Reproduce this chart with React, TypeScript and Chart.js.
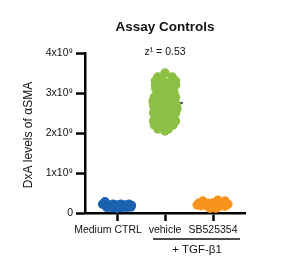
import React, { useEffect, useRef } from "react";
import { Chart, registerables } from "chart.js";

Chart.register(...registerables);

const categories = ["Medium CTRL", "vehicle", "SB525354"];
const yTickValues = [0, 1e9, 2e9, 3e9, 4e9];
const yTickLabels = ["0", "1x10\u2079", "2x10\u2079", "3x10\u2079", "4x10\u2079"];
const chartTitle = "Assay Controls";
const annotation = "z\u00B9 = 0.53";
const yTitle = "DxA levels of \u03B1SMA";
const groupLabel = "+ TGF-\u03B21";

// values in units of 1e9, horizontal swarm offsets in category units
const mediumValues = [0.28, 0.22, 0.2, 0.22, 0.2, 0.22, 0.2, 0.22, 0.19, 0.14, 0.13, 0.12, 0.13, 0.14, 0.16, 0.17, 0.15];
const mediumOffsets = [-0.25, -0.3, -0.17, -0.08, 0.0, 0.08, 0.17, 0.25, 0.3, -0.21, -0.1, 0.0, 0.1, 0.21, -0.04, 0.06, 0.29];

const vehicleValues = [
  3.5, 3.4, 3.4, 3.3, 3.3, 3.3, 3.3, 3.2, 3.2, 3.2, 3.2, 3.1, 3.1, 3.1, 3.0, 3.0, 3.0,
  2.9, 2.9, 2.9, 2.9, 2.8, 2.8, 2.8, 2.8, 2.7, 2.7, 2.7, 2.7, 2.6, 2.6, 2.6, 2.6,
  2.5, 2.5, 2.5, 2.5, 2.4, 2.4, 2.4, 2.3, 2.3, 2.3, 2.3, 2.2, 2.2, 2.2, 2.1, 2.1, 2.05,
];
const vehicleOffsets = [
  0.0, -0.15, 0.15, -0.2, -0.04, 0.13, 0.22, -0.2, -0.06, 0.09, 0.22, -0.19, 0.0, 0.17, -0.15, 0.04, 0.19,
  -0.22, -0.07, 0.09, 0.22, -0.25, -0.1, 0.05, 0.2, -0.24, -0.09, 0.07, 0.24, -0.22, -0.05, 0.1, 0.25,
  -0.24, -0.07, 0.09, 0.22, -0.2, -0.03, 0.13, -0.24, -0.07, 0.1, 0.22, -0.22, -0.03, 0.17, -0.15, 0.07, 0.0,
];

const sbValues = [0.3, 0.32, 0.3, 0.25, 0.24, 0.26, 0.25, 0.22, 0.18, 0.17, 0.15, 0.16, 0.17, 0.12, 0.12, 0.2];
const sbOffsets = [-0.21, 0.1, 0.25, -0.29, -0.1, 0.0, 0.19, 0.31, -0.25, -0.12, 0.0, 0.12, 0.25, -0.06, 0.06, -0.33];

const colors = ["#1b62b1", "#8cc045", "#f7941e"];

function toPoints(catIndex: number, values: number[], offsets: number[]) {
  return values.map((v, i) => ({ x: catIndex + offsets[i], y: v * 1e9 }));
}

function median(arr: number[]) {
  const s = [...arr].sort((a, b) => a - b);
  const m = Math.floor(s.length / 2);
  return s.length % 2 ? s[m] : (s[m - 1] + s[m]) / 2;
}

const FONT = "'Liberation Sans', Arial, sans-serif";

const overlayPlugin = {
  id: "overlay",
  beforeDatasetsDraw(chart: any) {
    const { ctx, scales } = chart;
    const x = scales.x;
    const y = scales.y;
    const med = median(vehicleValues) * 1e9;
    ctx.save();
    ctx.strokeStyle = "#000";
    ctx.lineWidth = 1.5;
    ctx.beginPath();
    ctx.moveTo(x.getPixelForValue(1 - 0.3), y.getPixelForValue(med));
    ctx.lineTo(x.getPixelForValue(1 + 0.37), y.getPixelForValue(med));
    ctx.stroke();
    ctx.restore();
  },
  afterDraw(chart: any) {
    const { ctx, scales, chartArea } = chart;
    const x = scales.x;
    ctx.save();
    ctx.fillStyle = "#111";
    ctx.textAlign = "center";
    ctx.textBaseline = "middle";
    const cx = (chartArea.left + chartArea.right) / 2;
    ctx.font = `bold 13.5px ${FONT}`;
    ctx.fillText(chartTitle, cx, 27);
    ctx.font = `10.5px ${FONT}`;
    ctx.fillText(annotation, x.getPixelForValue(1), 52);

    // x labels
    ctx.font = `10.5px ${FONT}`;
    const axisY = chartArea.bottom;
    ctx.fillText(categories[0], x.getPixelForValue(0) - 9, axisY + 17);
    ctx.fillText(categories[1], x.getPixelForValue(1), axisY + 17);
    ctx.fillText(categories[2], x.getPixelForValue(2), axisY + 17);

    // group bracket
    ctx.strokeStyle = "#111";
    ctx.lineWidth = 1.3;
    ctx.beginPath();
    ctx.moveTo(x.getPixelForValue(1) - 12, axisY + 26);
    ctx.lineTo(x.getPixelForValue(2) + 27, axisY + 26);
    ctx.stroke();
    ctx.font = `11.5px ${FONT}`;
    ctx.fillText(groupLabel, (x.getPixelForValue(1) + x.getPixelForValue(2)) / 2 + 8, axisY + 37);

    // y title
    ctx.translate(29, (chartArea.top + chartArea.bottom) / 2 + 2);
    ctx.rotate(-Math.PI / 2);
    ctx.font = `12px ${FONT}`;
    ctx.fillText(yTitle, 0, 0);
    ctx.restore();
  },
};

export default function App() {
  const ref = useRef<HTMLCanvasElement>(null);
  useEffect(() => {
    if (!ref.current) return;
    const chart = new Chart(ref.current, {
      type: "scatter",
      data: {
        datasets: [
          { data: toPoints(0, mediumValues, mediumOffsets), backgroundColor: colors[0], borderColor: colors[0] },
          { data: toPoints(1, vehicleValues, vehicleOffsets), backgroundColor: colors[1], borderColor: colors[1] },
          { data: toPoints(2, sbValues, sbOffsets), backgroundColor: colors[2], borderColor: colors[2] },
        ],
      },
      options: {
        responsive: false,
        animation: false,
        events: [],
        elements: { point: { radius: 4.7, borderWidth: 0 } },
        layout: { padding: { left: 0, right: 52, top: 53, bottom: 0 } },
        plugins: { legend: { display: false }, tooltip: { enabled: false }, title: { display: false } },
        scales: {
          x: {
            type: "linear",
            min: -2 / 3,
            max: 8 / 3,
            afterBuildTicks: (scale: any) => {
              scale.ticks = categories.map((_, i) => ({ value: i }));
            },
            afterFit: (scale: any) => {
              scale.height = 62;
            },
            ticks: { display: false },
            grid: { drawOnChartArea: false, tickLength: 8, tickWidth: 2.5, tickColor: "#000", offset: false },
            border: { display: true, color: "#000", width: 2.5 },
          },
          y: {
            min: 0,
            max: 4e9,
            afterBuildTicks: (scale: any) => {
              scale.ticks = yTickValues.map((v) => ({ value: v }));
            },
            afterFit: (scale: any) => {
              scale.width = 85;
            },
            ticks: {
              color: "#111",
              font: { size: 10.5, family: FONT },
              padding: 3,
              callback: (v: any) => {
                const i = yTickValues.indexOf(Number(v));
                return i >= 0 ? yTickLabels[i] : "";
              },
            },
            grid: { drawOnChartArea: false, tickLength: 9, tickWidth: 2.5, tickColor: "#000" },
            border: { display: true, color: "#000", width: 2.5 },
          },
        },
      },
      plugins: [overlayPlugin],
    });
    return () => chart.destroy();
  }, []);
  return (
    <div style={{ position: "absolute", left: 0, top: 0, width: 297, height: 275, background: "#fff" }}>
      <canvas ref={ref} width={297} height={275} />
    </div>
  );
}
